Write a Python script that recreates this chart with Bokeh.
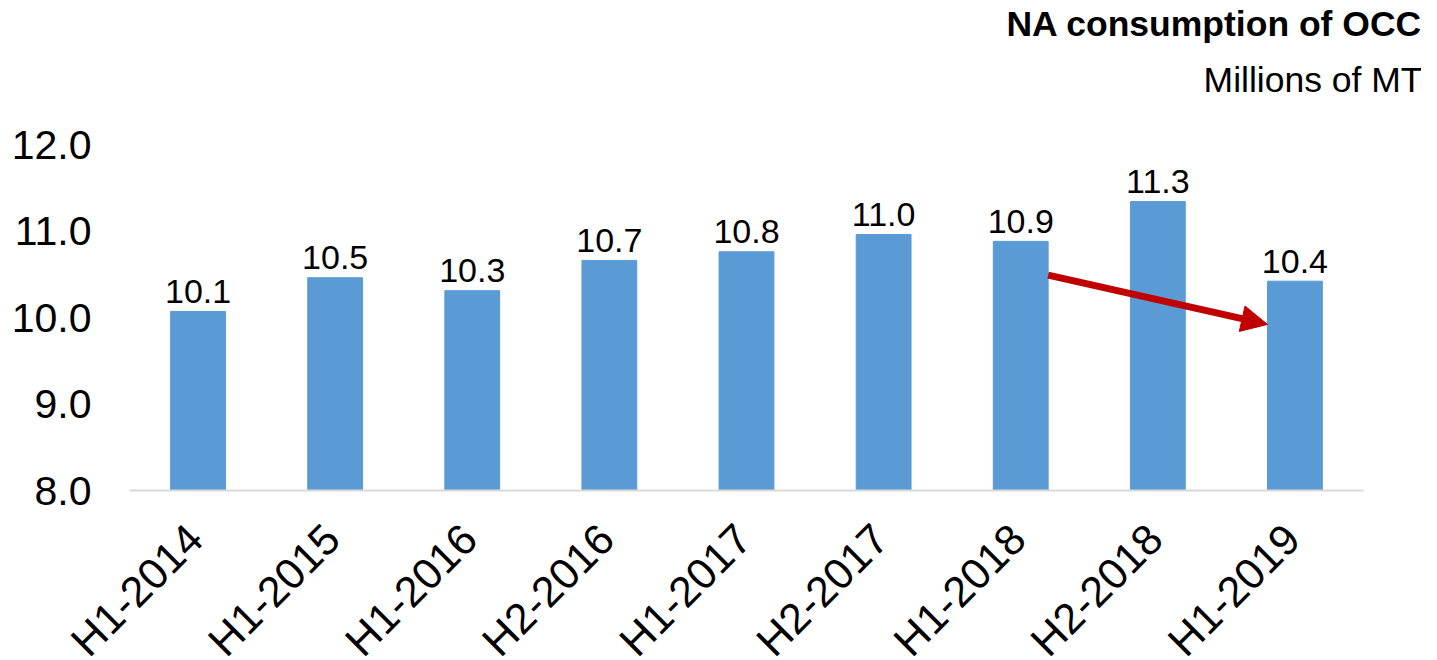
import math
import numpy as np
from bokeh.plotting import figure
from bokeh.layouts import column
from bokeh.models import (ColumnDataSource, Range1d, FixedTicker, Title, Arrow,
                          NormalHead, NumeralTickFormatter)
from bokeh.core.properties import value
from bokeh.embed import file_html
from bokeh.resources import INLINE

categories = ["H1-2014", "H1-2015", "H1-2016", "H2-2016", "H1-2017",
              "H2-2017", "H1-2018", "H2-2018", "H1-2019"]
values = [10.07, 10.46, 10.31, 10.66, 10.76, 10.96, 10.88, 11.34, 10.42]
y_ticks = [8, 9, 10, 11, 12]

FONT = "Liberation Sans"
BAR = "#5B9BD5"
RED = "#C00000"

W = 1421
LEFT, RIGHT = 129, 58
N = len(categories)

xs = np.arange(N) + 0.5
src = ColumnDataSource(dict(x=xs, top=values, cat=categories,
                            label=[f"{v:.1f}" for v in values]))

p = figure(width=W, height=518, output_backend="svg", toolbar_location=None,
           x_range=Range1d(0, N), y_range=Range1d(8, 12),
           min_border_left=LEFT, min_border_right=RIGHT, min_border_bottom=28,
           min_border_top=0)
p.frame_align = False
p.outline_line_color = None
p.xgrid.visible = False
p.ygrid.visible = False

p.vbar(x="x", top="top", bottom=8, width=0.4, source=src,
       fill_color=BAR, line_color=BAR)
p.text(x="x", y="top", text="label", source=src, y_offset=-20,
       text_align="center", text_baseline="alphabetic",
       text_font=value(FONT), text_font_size="34px", text_color="black")

# annotation arrow from H1-2018 to H1-2019
p.add_layout(Arrow(x_start=xs[6] + 0.2, y_start=10.49, x_end=xs[8] - 0.2, y_end=9.92,
                   line_color=RED, line_width=7,
                   end=NormalHead(size=26, fill_color=RED, line_color=RED)))

# x axis: line only (category labels are drawn in the strip below)
p.xaxis.ticker = FixedTicker(ticks=[])
p.xaxis.axis_line_color = "#D9D9D9"
p.xaxis.axis_line_width = 2
p.xaxis.major_tick_line_color = None
p.xaxis.minor_tick_line_color = None

# y axis
p.yaxis.ticker = FixedTicker(ticks=y_ticks)
p.yaxis.formatter = NumeralTickFormatter(format="0.0")
p.yaxis.major_label_text_font = FONT
p.yaxis.major_label_text_font_size = "41px"
p.yaxis.major_label_text_color = "black"
p.yaxis.major_label_standoff = 32
p.yaxis.axis_line_color = None
p.yaxis.major_tick_line_color = None
p.yaxis.minor_tick_line_color = None

# titles (spacer nearest to the plot, then subtitle, then bold title)
spacer = Title(text=" ", text_font_size="10px", standoff=19)
sub = Title(text="Millions of MT", align="right", text_font=FONT,
            text_font_size="35.5px", text_font_style="normal", text_color="black",
            offset=-59, standoff=26)
main = Title(text="NA consumption of OCC", align="right", text_font=FONT,
             text_font_size="35.5px", text_font_style="bold", text_color="black",
             offset=-59, standoff=2)
p.title = None
p.add_layout(spacer, "above")
p.add_layout(sub, "above")
p.add_layout(main, "above")

# strip with rotated category labels, same category scale as the chart
ppu = (W - LEFT - RIGHT) / N
p2 = figure(width=W, height=142, output_backend="svg", toolbar_location=None,
            x_range=Range1d(-LEFT / ppu, N + RIGHT / ppu), y_range=Range1d(0, 1),
            min_border_left=0, min_border_right=0, min_border_top=0,
            min_border_bottom=0, x_axis_location=None, y_axis_location=None)
p2.frame_align = False
p2.outline_line_color = None
p2.xgrid.visible = False
p2.ygrid.visible = False
p2.text(x="x", y=1, text="cat", source=src, angle=math.pi / 4,
        x_offset=-3, y_offset=13, text_align="right", text_baseline="alphabetic",
        text_font=value(FONT), text_font_size="43px", text_color="black")

layout = column(p, p2, spacing=0)
open("out.html", "w").write(file_html(layout, INLINE))
